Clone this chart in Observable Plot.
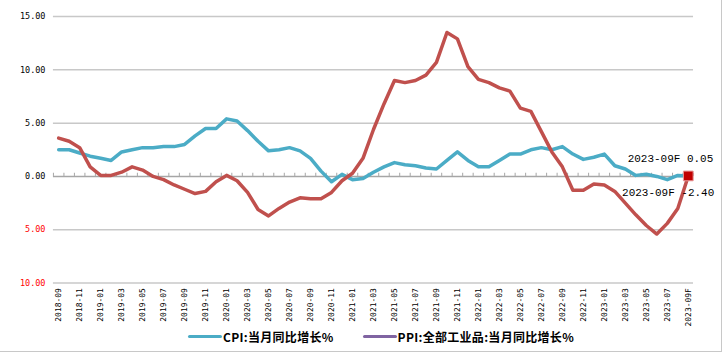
<!DOCTYPE html>
<html><head><meta charset="utf-8">
<script src="https://cdn.jsdelivr.net/npm/d3@7"></script>
<script src="https://cdn.jsdelivr.net/npm/@observablehq/plot@0.6"></script>
<style>
body{margin:0;background:#fff}
#wrap{position:relative;width:722px;height:352px;box-sizing:border-box;border-right:1px solid #c8c8c8;border-bottom:1px solid #c8c8c8;overflow:hidden;background:#fff}
#chart svg{display:block}
#legend{position:absolute;left:188px;top:326px;height:20px;display:flex;align-items:center;font:bold 12px "Noto Sans CJK SC";letter-spacing:0.3px;color:#000;white-space:nowrap}
.sw{display:inline-block;width:34px;height:3px;border-radius:2px;margin-right:1px}
</style></head><body><div id="wrap"><div id="chart"></div><div id="legend"></div></div>
<script>
const months = ["2018-09","2018-10","2018-11","2018-12","2019-01","2019-02","2019-03","2019-04","2019-05","2019-06","2019-07","2019-08","2019-09","2019-10","2019-11","2019-12","2020-01","2020-02","2020-03","2020-04","2020-05","2020-06","2020-07","2020-08","2020-09","2020-10","2020-11","2020-12","2021-01","2021-02","2021-03","2021-04","2021-05","2021-06","2021-07","2021-08","2021-09","2021-10","2021-11","2021-12","2022-01","2022-02","2022-03","2022-04","2022-05","2022-06","2022-07","2022-08","2022-09","2022-10","2022-11","2022-12","2023-01","2023-02","2023-03","2023-04","2023-05","2023-06","2023-07","2023-08","2023-09F"];
const cpi = [2.5,2.5,2.2,1.9,1.7,1.5,2.3,2.5,2.7,2.7,2.8,2.8,3.0,3.8,4.5,4.5,5.4,5.2,4.3,3.3,2.4,2.5,2.7,2.4,1.7,0.5,-0.5,0.2,-0.3,-0.2,0.4,0.9,1.3,1.1,1.0,0.8,0.7,1.5,2.3,1.5,0.9,0.9,1.5,2.1,2.1,2.5,2.7,2.5,2.8,2.1,1.6,1.8,2.1,1.0,0.7,0.1,0.2,0.0,-0.3,0.1,0.05];
const ppi = [3.6,3.3,2.7,0.9,0.1,0.1,0.4,0.9,0.6,0.0,-0.3,-0.8,-1.2,-1.6,-1.4,-0.5,0.1,-0.4,-1.5,-3.1,-3.7,-3.0,-2.4,-2.0,-2.1,-2.1,-1.5,-0.4,0.3,1.7,4.4,6.8,9.0,8.8,9.0,9.5,10.7,13.5,12.9,10.3,9.1,8.8,8.3,8.0,6.4,6.1,4.2,2.3,0.9,-1.3,-1.3,-0.7,-0.8,-1.4,-2.5,-3.6,-4.6,-5.4,-4.4,-3.0,0.05];
const yTicks = [15,10,5,0,-5,-10];
const yTickText = ["15.00","10.00","5.00","0.00","5.00","10.00"];
const annotations = ["2023-09F 0.05","2023-09F -2.40"];
const seriesNames = ["CPI:当月同比增长%","PPI:全部工业品:当月同比增长%"];
const seriesColors = ["#4bacc6","#8064a2"];

const n = months.length;
const data = d3.range(n).map(i => ({i, m: months[i], cpi: cpi[i], ppi: ppi[i]}));
const last = data[n - 1];
const xTickIdx = d3.range(0, n, 2);
const axisFont = "DejaVu Sans Mono";

const chart = Plot.plot({
  width: 722, height: 324,
  marginLeft: 53, marginRight: 28, marginTop: 16, marginBottom: 41,
  x: {domain: [-0.5, n - 0.5], axis: null},
  y: {domain: [-10, 15], axis: null},
  style: {background: "#fff", overflow: "visible"},
  marks: [
    Plot.ruleY(yTicks.filter(d => d !== 0), {stroke: "#c8c8c8", strokeWidth: 1.5}),
    Plot.ruleY([0], {stroke: "#a6a6a6", strokeWidth: 1.5}),
    Plot.ruleX(d3.range(-0.5, n), {y1: 0, y2: 0.3, stroke: "#a6a6a6", strokeWidth: 1}),
    Plot.text(yTicks, {y: d => d, text: (d, i) => yTickText[i], frameAnchor: "left", textAnchor: "end", dx: -8,
      fill: d => d < 0 ? "#ff0000" : "#000000", fontSize: 8.5, fontFamily: axisFont}),
    Plot.text(xTickIdx, {x: d => d, text: d => months[d], frameAnchor: "bottom", rotate: -90, textAnchor: "end",
      lineAnchor: "middle", dy: 5, fontSize: 8, fontFamily: axisFont, fill: "#000"}),
    Plot.line(data, {x: "i", y: "cpi", stroke: seriesColors[0], strokeWidth: 3.5}),
    Plot.line(data, {x: "i", y: "ppi", stroke: "#c0504d", strokeWidth: 3.5}),
    Plot.dot([last], {x: "i", y: "ppi", symbol: "square", r: 5.5, fill: "#c00000", stroke: "#e89a9a", strokeWidth: 1}),
    Plot.text([last], {x: "i", y: "cpi", text: () => annotations[0], textAnchor: "end", dx: 25, dy: -17,
      fontSize: 11, fontFamily: "Liberation Mono", fill: "#000"}),
    Plot.text([last], {x: "i", y: "ppi", text: () => annotations[1], textAnchor: "end", dx: 26, dy: 17,
      fontSize: 11, fontFamily: "Liberation Mono", fill: "#000"})
  ]
});
document.getElementById("chart").appendChild(chart);

const legend = document.getElementById("legend");
seriesNames.forEach((name, k) => {
  const item = document.createElement("span");
  item.style.display = "inline-flex";
  item.style.alignItems = "center";
  if (k > 0) item.style.marginLeft = "29px";
  const sw = document.createElement("span");
  sw.className = "sw";
  sw.style.background = seriesColors[k];
  item.appendChild(sw);
  item.appendChild(document.createTextNode(name));
  legend.appendChild(item);
});
</script>
</body></html>
